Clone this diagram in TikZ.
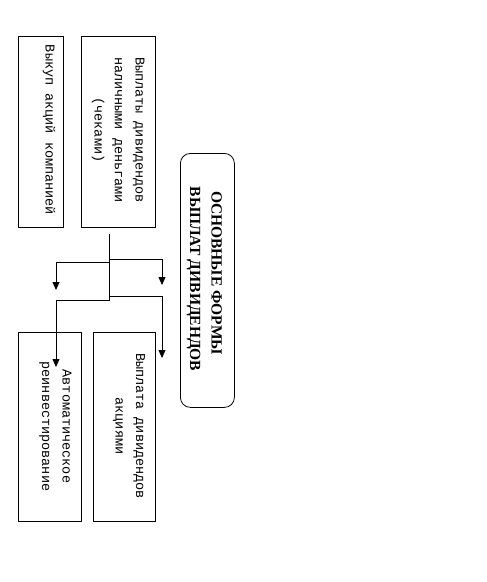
\documentclass[tikz,border=0pt]{standalone}
\usepackage{fontspec}
\usetikzlibrary{arrows.meta,calc}
\newfontfamily\monofam{Liberation Mono}
\newfontfamily\titlefam{Liberation Serif}
\begin{document}
\begin{tikzpicture}[x=1pt,y=-1pt,
  box/.style={draw,line width=0.8pt,inner sep=0pt,anchor=north west},
  txt/.style={rotate=-90,inner sep=0pt,anchor=base,align=center,
    font=\monofam\fontsize{13.5}{20.5}\selectfont},
  ttl/.style={rotate=-90,inner sep=0pt,anchor=base,align=center,
    font=\titlefam\bfseries\fontsize{15.5}{21.5}\selectfont},
  conn/.style={line width=0.8pt},
  arr/.style={line width=0.8pt,-{Triangle[width=7pt,length=8pt]}}]
\useasboundingbox (0,0) rectangle (487,582);
% boxes
\node[box,minimum width=45pt,minimum height=191pt] (b1) at (18,36) {};
\node[box,minimum width=74pt,minimum height=191pt] (b2) at (81,36) {};
\node[box,minimum width=63pt,minimum height=189pt] (b3) at (18,332) {};
\node[box,minimum width=62pt,minimum height=189pt] (b4) at (93,332) {};
\node[box,rounded corners=10pt,minimum width=54pt,minimum height=254pt] (m) at (180,153) {};
% texts (base anchor = baseline of the last line)
\node[txt] (t1) at (45.5,130) {Выкуп акций компанией};
\node[txt] (t2) at (94.5,130) {Выплаты дивидендов\\наличными деньгами\\(чеками)};
\node[txt] (t3) at (42,426.5) {Автоматическое\\реинвестирование};
\node[txt] (t4) at (115.5,426) {Выплата дивидендов\\акциями};
\node[ttl] (tm) at (190,279) {ОСНОВНЫЕ ФОРМЫ\hspace*{12pt}\\ВЫПЛАТ ДИВИДЕНДОВ};
% connectors
\coordinate (s0) at ($(b2.south)+(-9,6)$);
\coordinate (s1) at ($(b2.south)+(-9,73)$);
\coordinate (j1) at ($(b2.south)+(-9,35)$);
\coordinate (j2) at ($(b2.south)+(-9,32)$);
\coordinate (j3) at ($(b2.south)+(-9,69)$);
\coordinate (e1) at (56,290);
\coordinate (e2) at (162,285);
\coordinate (e3) at (162,358);
\coordinate (e4) at (56,367);
\draw[conn] (s0) -- (s1);
\draw[arr] (j1) -| (e1);
\draw[arr] (j2) -| (e2);
\draw[arr] (j3) -| (e3);
\draw[arr] (s1) -| (e4);
\end{tikzpicture}
\end{document}
